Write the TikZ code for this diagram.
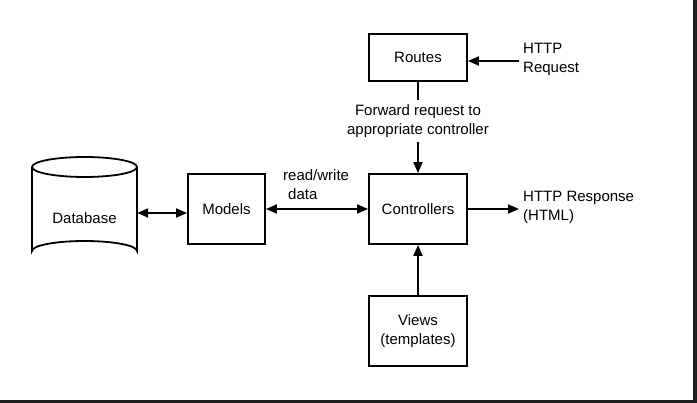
\documentclass[tikz,border=0pt]{standalone}
\usepackage{fontspec}
\setmainfont{Liberation Sans}
\usetikzlibrary{arrows.meta}
\begin{document}
\begin{tikzpicture}[x=1pt,y=-1pt,
  every node/.style={font=\fontsize{15}{19}\selectfont},
  box/.style={draw,line width=1.8pt,minimum width=98pt,minimum height=70pt,inner sep=0pt,align=center},
  lbl/.style={inner sep=0pt,align=left,anchor=west},
  conn/.style={line width=1.8pt},
  tip/.style={-{Triangle[length=11pt,width=9pt]}},
  tips/.style={{Triangle[length=11pt,width=9pt]}-{Triangle[length=11pt,width=9pt]}}]
\useasboundingbox (0,0) rectangle (697,403);
\fill[white] (0,0) rectangle (697,403);
\fill[black!88] (692.5,0) rectangle (697,403);
\fill[black!88] (0,400) rectangle (697,403);
% nodes
\node[box,minimum height=47pt] (routes) at (418,57.5) {Routes};
\node[box] (controllers) at (418,209) {Controllers};
\node[box] (views) at (418,331) {Views\\(templates)};
\node[box,minimum width=77pt] (models) at (226.5,209) {Models};
% database cylinder
\draw[line width=1.8pt,fill=white] (32,167) -- (32,251) arc[start angle=180,end angle=360,x radius=52.5,y radius=10] -- (137,167);
\draw[line width=1.8pt] (84.5,167) ellipse[x radius=52.5,y radius=10];
\node[inner sep=0pt,minimum width=105pt,minimum height=104pt] (database) at (84.5,209) {};
\node[inner sep=0pt] (dblabel) at (84.5,218) {Database};
% labels
\node[lbl] (req) at (523,59) {HTTP\\Request};
\node[lbl] (resp) at (523,207.5) {HTTP Response\\(HTML)};
\node[inner sep=0pt,minimum height=42pt,align=center] (fwd) at (418,121) {Forward request to\\appropriate controller};
\node[lbl] (rw) at (283,184.5) {read/write\\\hspace{5pt}data};
% connectors
\coordinate (reqend) at (519,61);
\coordinate (respend) at (519,209);
\coordinate (dbe) at ([yshift=-4pt]database.east);
\draw[conn,tip] (reqend) -- (routes.east |- reqend);
\draw[conn] (routes.south) -- (fwd.north);
\draw[conn,tip] (fwd.south) -- (controllers.north);
\draw[conn,tip] (controllers.east) -- (respend);
\draw[conn,tip] (views.north) -- (controllers.south);
\draw[conn,tips] (models.east) -- (controllers.west);
\draw[conn,tips] (dbe) -- (models.west |- dbe);
\end{tikzpicture}
\end{document}
